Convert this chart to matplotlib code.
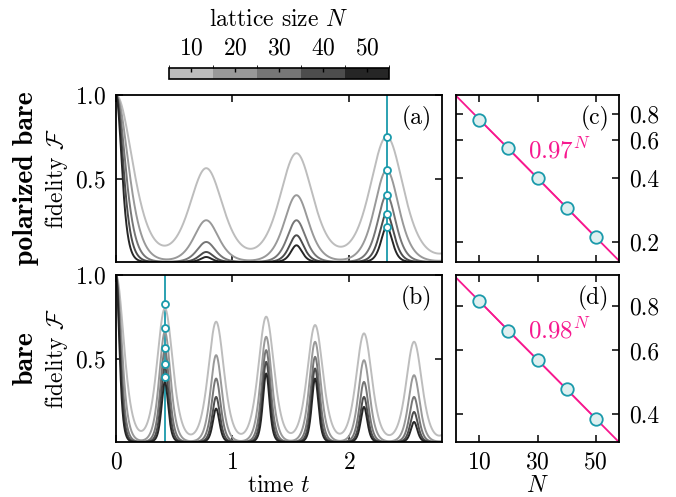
import numpy as np
import matplotlib.pyplot as plt
from matplotlib.colors import ListedColormap, BoundaryNorm
from matplotlib.cm import ScalarMappable

# computer modern look (fonts shipped with matplotlib)
plt.rcParams['font.family'] = 'cmr10'
plt.rcParams['mathtext.fontset'] = 'cm'
plt.rcParams['axes.formatter.use_mathtext'] = True
plt.rcParams['font.size'] = 17
plt.rcParams['axes.linewidth'] = 1.3

### data
sizes = [10, 20, 30, 40, 50]
greys = ['#bdbdbd', '#999999', '#767676', '#4d4d4d', '#262626']

# (a) polarized bare: revival times, peak heights (one row per N), peak widths
t_peaks_a = [0.0, 0.775, 1.55, 2.325, 3.2]
peaks_a = [[1.0, 0.56, 0.65, 0.75, 0.55],
           [1.0, 0.25, 0.40, 0.55, 0.40],
           [1.0, 0.12, 0.25, 0.40, 0.28],
           [1.0, 0.06, 0.16, 0.29, 0.19],
           [1.0, 0.03, 0.10, 0.21, 0.13]]
width_a = [0.19, 0.14, 0.105, 0.082, 0.065]
t_mark_a = 2.325
fid_a = [0.75, 0.55, 0.40, 0.29, 0.21]

# (b) bare
t_peaks_b = [0.0, 0.42, 0.86, 1.29, 1.71, 2.13, 2.56, 2.99]
peaks_b = [[1.0, 0.80, 0.72, 0.75, 0.70, 0.65, 0.60, 0.55],
           [1.0, 0.66, 0.52, 0.63, 0.60, 0.49, 0.40, 0.33],
           [1.0, 0.55, 0.38, 0.55, 0.51, 0.36, 0.27, 0.20],
           [1.0, 0.45, 0.27, 0.48, 0.44, 0.27, 0.18, 0.12],
           [1.0, 0.36, 0.20, 0.41, 0.38, 0.21, 0.12, 0.07]]
width_b = [0.09, 0.065, 0.052, 0.044, 0.038]
t_mark_b = 0.42
fid_b = [0.826, 0.680, 0.565, 0.468, 0.387]

teal = '#1a9aab'
pink = '#f7198f'

W, H = 676, 497
fig = plt.figure(figsize=(W/100, H/100), dpi=100)

def box(l, t, r, b):
    return [l/W, 1-b/H, (r-l)/W, (b-t)/H]

ax_a = fig.add_axes(box(116, 95, 442, 262))
ax_b = fig.add_axes(box(116, 275, 442, 442))
ax_c = fig.add_axes(box(456, 95, 619, 262))
ax_d = fig.add_axes(box(456, 275, 619, 442))
cax = fig.add_axes(box(169, 68, 389, 79))

t = np.linspace(0, 2.8, 2000)

def curve(tp, hs, w):
    f = np.zeros_like(t)
    for tk, h in zip(tp, hs):
        f += h / np.cosh((t - tk) / w)**2
    return np.clip(f, 0, 1)

for ax, tp, pk, wd, tm, fid, lab in [(ax_a, t_peaks_a, peaks_a, width_a, t_mark_a, fid_a, '(a)'),
                                     (ax_b, t_peaks_b, peaks_b, width_b, t_mark_b, fid_b, '(b)')]:
    ax.axvline(tm, color=teal, lw=1.3, zorder=1)
    for i in range(len(sizes)):
        ax.plot(t, curve(tp, pk[i], wd[i]), color=greys[i], lw=1.4, zorder=2)
    ax.plot([tm]*len(fid), fid, 'o', ms=5, mfc='white', mec=teal, mew=1.3, zorder=3)
    ax.set_xlim(0, 2.8)
    ax.set_ylim(0, 1)
    ax.set_xticks([0, 1, 2])
    ax.set_yticks([0.5, 1.0])
    ax.tick_params(direction='in', top=True, right=True, length=5, width=1.1, pad=7)
    ax.annotate(lab, xy=(1, 1), xycoords='axes fraction', xytext=(-7, -8),
                textcoords='offset points', ha='right', va='top')

ax_a.set_xticklabels([])
ax_b.set_xlabel('time $t$', labelpad=1)

# exponential fits
Nfit = np.linspace(0, 60, 100)
for ax, fid, lab, txt, yl in [(ax_c, fid_a, '(c)', '$0.97^N$', (0.161, 0.98)),
                              (ax_d, fid_b, '(d)', '$0.98^N$', (0.333, 0.975))]:
    slope, icpt = np.polyfit(sizes, np.log(fid), 1)
    ax.plot(Nfit, np.exp(icpt + slope*Nfit), color=pink, lw=1.3, zorder=1)
    ax.plot(sizes, fid, color=pink, lw=1.0, zorder=1)
    ax.plot(sizes, fid, 'o', ms=9, mfc='#dff0f0', mec=teal, mew=1.3, zorder=3)
    ax.set_yscale('log')
    ax.set_xlim(2, 58)
    ax.set_ylim(*yl)
    ax.set_xticks([10, 30, 50])
    ax.yaxis.set_minor_locator(plt.NullLocator())
    ax.yaxis.tick_right()
    ax.tick_params(direction='in', top=True, left=True, right=True, length=5, width=1.1, pad=7)
    ax.text(0.44, 0.62, txt, transform=ax.transAxes, color=pink, ha='left', va='baseline', fontsize=18)
    ax.annotate(lab, xy=(1, 1), xycoords='axes fraction', xytext=(-7, -8),
                textcoords='offset points', ha='right', va='top')

ax_c.set_yticks([0.2, 0.4, 0.6, 0.8])
ax_c.set_yticklabels(['0.2', '0.4', '0.6', '0.8'])
ax_c.set_xticklabels([])
ax_d.set_yticks([0.4, 0.6, 0.8])
ax_d.set_yticklabels(['0.4', '0.6', '0.8'])
ax_d.set_xlabel('$N$', labelpad=1)

# row labels
for ax, name in [(ax_a, 'polarized bare'), (ax_b, 'bare')]:
    yc = (ax.get_position().y0 + ax.get_position().y1) / 2
    fig.text(26/W, yc, name, rotation=90, ha='center', va='center', family='cmb10', fontsize=20)
    fig.text(57/W, yc, r'fidelity $\mathcal{F}$', rotation=90, ha='center', va='center')

# discrete colour bar for lattice size
cmap = ListedColormap(greys)
norm = BoundaryNorm([5, 15, 25, 35, 45, 55], cmap.N)
cb = fig.colorbar(ScalarMappable(norm=norm, cmap=cmap), cax=cax, orientation='horizontal', ticks=sizes)
cb.outline.set_linewidth(1.2)
cax.xaxis.set_ticks_position('top')
cax.xaxis.set_label_position('top')
cax.tick_params(direction='in', length=3, width=1, pad=6)
cb.set_label('lattice size $N$', labelpad=8)

fig.savefig('out.png', dpi=100)
